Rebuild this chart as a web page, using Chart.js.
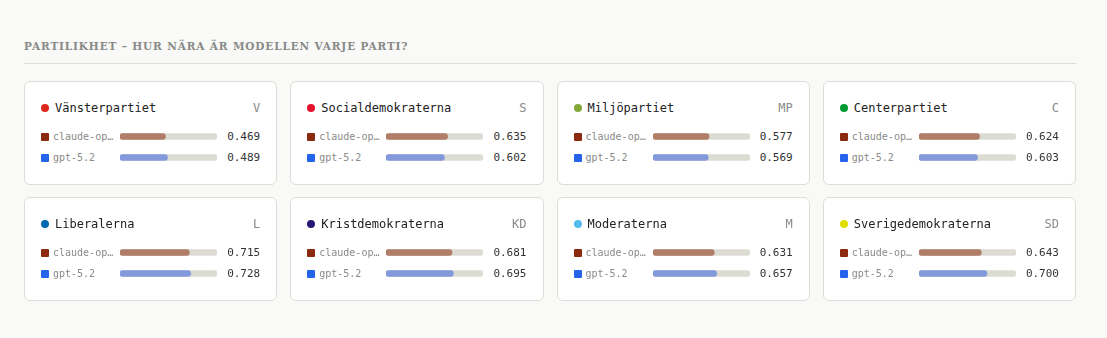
<!DOCTYPE html>
<html lang="sv">
<head>
<meta charset="utf-8">
<title>Partilikhet</title>
<script src="https://cdn.jsdelivr.net/npm/chart.js@4.4.1/dist/chart.umd.min.js"></script>
<style>
  html, body { margin: 0; padding: 0; background: #f9f9f7; }
  body { width: 1107px; height: 338px; overflow: hidden; }
  .wrap { position: absolute; left: 24px; top: 0; width: 1052px; }
  h2 {
    margin: 0; position: absolute; top: 38px; left: 0;
    font-family: "DejaVu Serif", serif; font-weight: bold; font-size: 10.5px;
    letter-spacing: 0.86px; color: #8a8a88; line-height: 16px; white-space: nowrap;
  }
  .rule { position: absolute; top: 63px; left: 0; width: 1052px; height: 1px; background: #dcdcd8; }
  .grid {
    position: absolute; top: 81px; left: 0; width: 1052px;
    display: grid; grid-template-columns: repeat(4, 1fr); column-gap: 13px; row-gap: 12px;
  }
  .card {
    box-sizing: border-box; height: 104px; background: #fff; border: 1px solid #dddcd6;
    border-radius: 6px; padding: 16px 16px 0 16px;
    font-family: "DejaVu Sans Mono", monospace;
  }
  .head { display: flex; align-items: center; height: 20px; margin-bottom: 8px; }
  .dot { width: 8px; height: 8px; border-radius: 50%; margin-right: 6px; flex: none; }
  .name { font-size: 12px; color: #222; flex: 1; }
  .code { font-size: 12px; color: #8a8a88; }
  .rows { display: grid; grid-template-columns: 79px 97px 1fr; grid-template-rows: 21px 21px; }
  .lab { display: flex; align-items: center; font-size: 10px; color: #8a8a88; white-space: nowrap; }
  .sq { width: 8px; height: 8px; border-radius: 1px; margin-right: 4px; flex: none; }
  .val { font-size: 11px; color: #333; text-align: right; line-height: 21px; }
  .rows canvas { grid-column: 2; grid-row: 1 / span 2; }
</style>
</head>
<body>
<div class="wrap">
  <h2>PARTILIKHET – HUR NÄRA ÄR MODELLEN VARJE PARTI?</h2>
  <div class="rule"></div>
  <div class="grid" id="grid"></div>
</div>
<script>
// data
const parties = ['Vänsterpartiet', 'Socialdemokraterna', 'Miljöpartiet', 'Centerpartiet',
  'Liberalerna', 'Kristdemokraterna', 'Moderaterna', 'Sverigedemokraterna'];
const partyCodes = ['V', 'S', 'MP', 'C', 'L', 'KD', 'M', 'SD'];
const partyColors = ['#da291c', '#e8112d', '#83a83a', '#009933', '#006ab3', '#231977', '#52bdec', '#dddd00'];
const models = ['claude-opus', 'gpt-5.2'];
const modelLabels = ['claude-op…', 'gpt-5.2']; // as shown (truncated) in the cards
const modelColors = ['#8b2a0e', '#2563eb'];
const barColors = ['#b07d68', '#8299dc'];
const claudeScores = [0.469, 0.635, 0.577, 0.624, 0.715, 0.681, 0.631, 0.643];
const gptScores = [0.489, 0.602, 0.569, 0.603, 0.728, 0.695, 0.657, 0.700];
const trackColor = '#dddcd3';

const grid = document.getElementById('grid');

parties.forEach((party, i) => {
  const scores = [claudeScores[i], gptScores[i]];
  const card = document.createElement('div');
  card.className = 'card';
  card.innerHTML =
    `<div class="head"><div class="dot" style="background:${partyColors[i]}"></div>` +
    `<div class="name">${party}</div><div class="code">${partyCodes[i]}</div></div>` +
    `<div class="rows">` +
    `<div class="lab" style="grid-column:1;grid-row:1"><div class="sq" style="background:${modelColors[0]}"></div><span>${modelLabels[0]}</span></div>` +
    `<div class="lab" style="grid-column:1;grid-row:2"><div class="sq" style="background:${modelColors[1]}"></div><span>${modelLabels[1]}</span></div>` +
    `<canvas width="97" height="42"></canvas>` +
    `<div class="val" style="grid-column:3;grid-row:1">${scores[0].toFixed(3)}</div>` +
    `<div class="val" style="grid-column:3;grid-row:2">${scores[1].toFixed(3)}</div>` +
    `</div>`;
  grid.appendChild(card);

  const ctx = card.querySelector('canvas').getContext('2d');
  new Chart(ctx, {
    type: 'bar',
    data: {
      labels: models,
      datasets: [
        { data: scores, backgroundColor: barColors, barThickness: 6, borderRadius: 3, borderSkipped: false, grouped: false },
        { data: models.map(() => 1), backgroundColor: trackColor, barThickness: 6, borderRadius: 3, borderSkipped: false, grouped: false }
      ]
    },
    options: {
      indexAxis: 'y',
      responsive: false,
      animation: false,
      devicePixelRatio: 1,
      layout: { padding: 0 },
      plugins: { legend: { display: false }, tooltip: { enabled: false } },
      scales: {
        x: { min: 0, max: 1, display: false },
        y: { display: false }
      }
    }
  });
});
</script>
</body>
</html>
